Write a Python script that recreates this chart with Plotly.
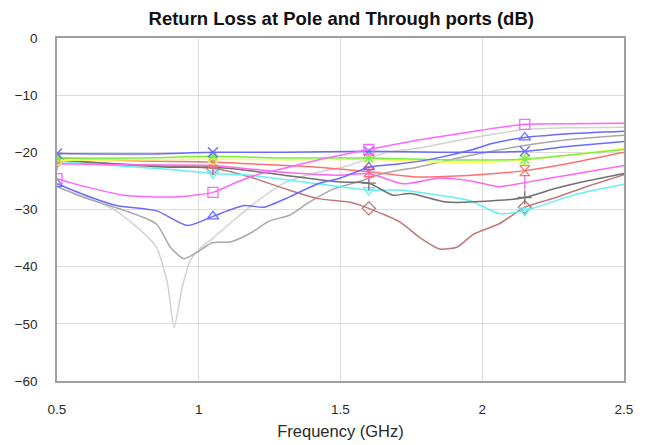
import plotly.graph_objects as go

MARKER_X = [0.5, 1.05, 1.6, 2.15]

# --- data (GHz, dB) ---
lgray_x = [0.5, 0.6, 0.7, 0.78, 0.85, 0.89, 0.913, 0.94, 0.97, 1.0, 1.05, 1.135, 1.2, 1.3, 1.42, 1.53, 1.65, 1.77, 1.96, 2.15, 2.3, 2.5]
lgray_y = [-26, -27.8, -30, -33, -36.5, -43, -50.7, -44, -39, -37, -35, -31.4, -28.8, -25.4, -23.5, -22.3, -20.2, -19.3, -17.5, -16, -15.7, -15.6]

dgray_x = [0.5, 0.6, 0.74, 0.85, 0.9, 0.947, 0.994, 1.047, 1.11, 1.18, 1.25, 1.32, 1.39, 1.48, 1.56, 1.65, 1.77, 1.96, 2.15, 2.3, 2.5]
dgray_y = [-26, -28, -30.2, -32.5, -36.6, -38.6, -37.5, -35.8, -35.7, -34.2, -32, -31, -28.7, -26.3, -25.2, -23.7, -22.6, -20.5, -18.8, -17.8, -17]

btri_x = [0.5, 0.6, 0.71, 0.85, 0.96, 1.05, 1.16, 1.23, 1.32, 1.42, 1.5, 1.6, 1.71, 1.83, 1.96, 2.03, 2.15, 2.32, 2.5]
btri_y = [-25.5, -27.5, -29.3, -30.2, -32.8, -31.2, -29.3, -29.6, -27.8, -25.5, -24.5, -22.6, -22, -21.1, -19.6, -18.5, -17.4, -16.7, -16.3]

msq_x = [0.5, 0.6, 0.736, 0.913, 1.05, 1.135, 1.2, 1.3, 1.45, 1.6, 1.77, 1.96, 2.15, 2.3, 2.5]
msq_y = [-24.6, -26, -27.5, -27.8, -27, -25.2, -24, -22.8, -21, -19.5, -17.9, -16.4, -15.1, -15, -14.9]

brown_x = [0.5, 0.7, 0.9, 1.05, 1.18, 1.3, 1.42, 1.53, 1.6, 1.71, 1.78, 1.85, 1.91, 1.97, 2.06, 2.15, 2.26, 2.38, 2.5]
brown_y = [-21.5, -22, -22.4, -22.8, -24.3, -26.3, -28.1, -28.7, -29.8, -32.2, -34.9, -36.9, -36.6, -34.3, -32.5, -29.6, -27.9, -25.8, -23.9]

black_x = [0.5, 0.7, 0.9, 1.05, 1.18, 1.3, 1.5, 1.6, 1.685, 1.745, 1.875, 2.06, 2.15, 2.26, 2.38, 2.5]
black_y = [-21.3, -22, -22.6, -22.6, -23.2, -24, -25.2, -25.4, -27.5, -27.2, -28.7, -28.4, -27.9, -26.3, -24.9, -23.7]

cyan_x = [0.5, 0.7, 0.9, 1.05, 1.18, 1.42, 1.6, 1.71, 1.89, 1.96, 2.06, 2.15, 2.32, 2.5]
cyan_y = [-21.5, -22.3, -23, -23.7, -24, -25.5, -26.6, -26.6, -27.8, -28.5, -30.7, -30.2, -27.5, -25.6]

red_x = [0.5, 0.8, 1.05, 1.18, 1.42, 1.6, 1.77, 1.96, 2.15, 2.3, 2.5]
red_y = [-21, -21.5, -21.7, -22, -22.6, -23.4, -24.3, -24, -23.2, -22, -20]

pink_x = [0.5, 0.8, 1.05, 1.3, 1.5, 1.6, 1.72, 1.85, 1.96, 2.06, 2.15, 2.3, 2.5]
pink_y = [-22, -22.2, -22.3, -23.5, -24, -23.7, -25.5, -24.5, -25, -26, -25.3, -24, -22.3]

green_x = [0.5, 0.8, 1.05, 1.3, 1.6, 1.85, 2.15, 2.3, 2.5]
green_y = [-21, -21, -20.7, -21, -21, -21.3, -21.2, -20.5, -19.5]

yellow_x = [0.5, 0.8, 1.05, 1.3, 1.6, 1.85, 2.0, 2.15, 2.3, 2.5]
yellow_y = [-21.4, -21.3, -21.2, -21.3, -21.2, -21.7, -21.8, -21.3, -20.5, -19.3]

bx_x = [0.5, 0.8, 1.05, 1.3, 1.6, 1.85, 2.15, 2.3, 2.5]
bx_y = [-20.2, -20.3, -20, -20, -19.8, -20, -19.8, -19, -18.1]

x_ticks = [0.5, 1, 1.5, 2, 2.5]
x_tick_labels = ["0.5", "1", "1.5", "2", "2.5"]
y_ticks = [0, -10, -20, -30, -40, -50, -60]

series = [
    (lgray_x, lgray_y, "#d2d2d2", None),
    (dgray_x, dgray_y, "#a8a8a8", None),
    (brown_x, brown_y, "#c07878", "diamond-open"),
    (cyan_x, cyan_y, "#66f0f0", "triangle-down-open"),
    (black_x, black_y, "#707070", "cross-thin-open"),
    (pink_x, pink_y, "#ff66ee", "line-ns-open"),
    (red_x, red_y, "#ff7070", "hourglass-open"),
    (yellow_x, yellow_y, "#ffff55", "circle-open"),
    (green_x, green_y, "#77ee44", "asterisk-open"),
    (bx_x, bx_y, "#6a6aff", "x-thin-open"),
    (btri_x, btri_y, "#6a6aff", "triangle-up-open"),
    (msq_x, msq_y, "#ff66ff", "square-open"),
]

fig = go.Figure()
for xs, ys, col, sym in series:
    fig.add_trace(go.Scatter(x=xs, y=ys, mode="lines",
                             line=dict(color=col, width=1.5, shape="spline", smoothing=0.6),
                             showlegend=False, hoverinfo="skip"))
    if sym:
        mx = [x for x in xs if x in MARKER_X]
        my = [y for x, y in zip(xs, ys) if x in MARKER_X]
        fig.add_trace(go.Scatter(x=mx, y=my, mode="markers",
                                 marker=dict(symbol=sym, size=10, color=col,
                                             line=dict(color=col, width=1.3)),
                                 showlegend=False, hoverinfo="skip"))

fig.update_layout(
    width=650, height=445,
    margin=dict(l=57, r=26, t=38, b=64),
    paper_bgcolor="white", plot_bgcolor="white",
    font=dict(family="Liberation Sans, Arial, sans-serif", size=13.5, color="#2a2a2a"),
    title=dict(text="<b>Return Loss at Pole and Through ports (dB)</b>",
               x=0.525, xanchor="center", y=0.958, yanchor="middle",
               font=dict(size=18.5, color="#111111")),
    xaxis=dict(range=[0.5, 2.5], tickvals=x_ticks, ticktext=x_tick_labels,
               showgrid=True, gridcolor="#dcdcdc", gridwidth=1,
               showline=True, linecolor="#a0a0a0", linewidth=1.5, mirror=True,
               zeroline=False, ticks="", ticklabelstandoff=15, automargin=False,
               title=dict(text="Frequency (GHz)", font=dict(size=16.5), standoff=9)),
    yaxis=dict(range=[-60, 0], tickvals=y_ticks, automargin=False,
               showgrid=True, gridcolor="#dcdcdc", gridwidth=1,
               showline=True, linecolor="#a0a0a0", linewidth=1.5, mirror=True,
               zeroline=False, ticks="", ticklabelstandoff=15),
)

fig.write_html("out.html")
